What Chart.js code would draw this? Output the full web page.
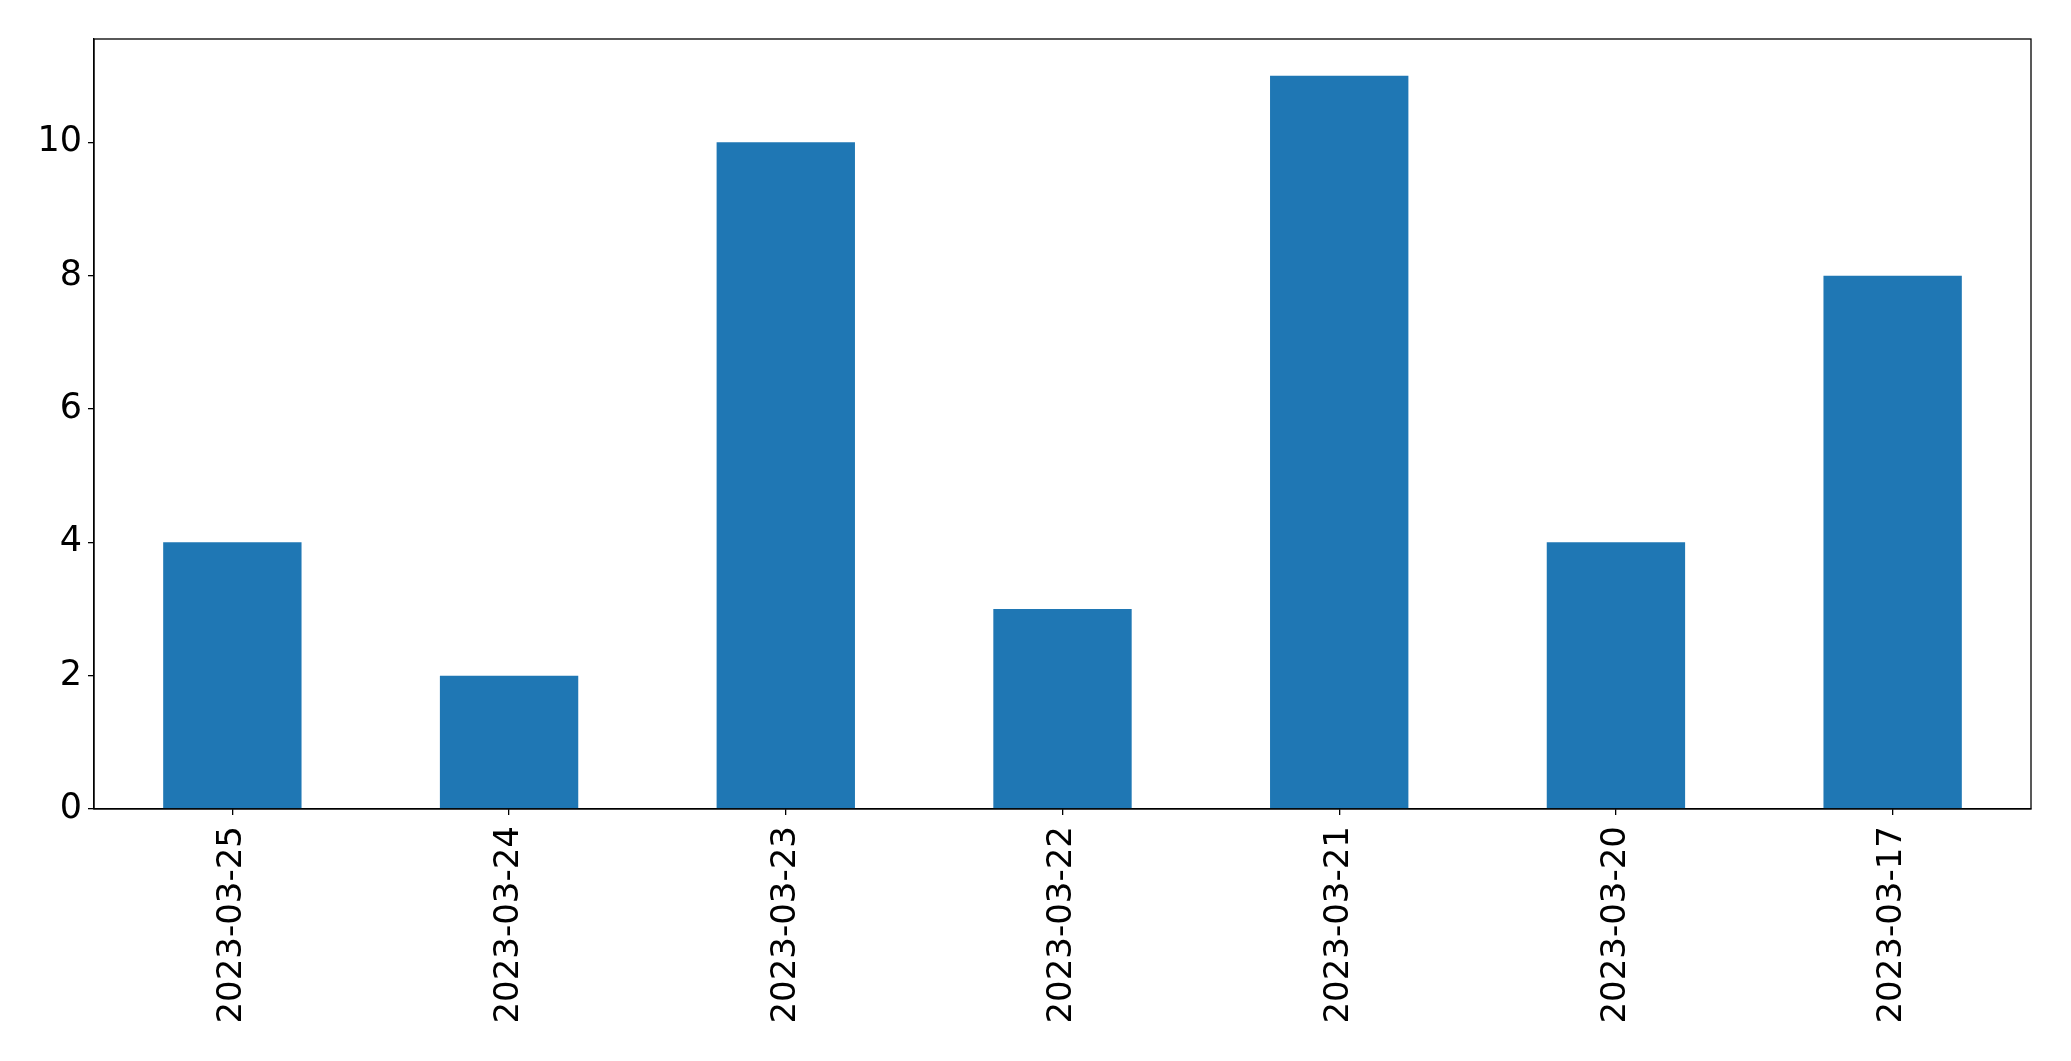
<!DOCTYPE html>
<html>
<head>
<meta charset="utf-8">
<script src="https://cdn.jsdelivr.net/npm/chart.js@4"></script>
<style>
html,body{margin:0;padding:0;background:#fff;}
#wrap{width:2071px;height:1061px;position:relative;}
</style>
</head>
<body>
<div id="wrap"><canvas id="c" width="2071" height="1061"></canvas></div>
<script>
const categories = ["2023-03-25","2023-03-24","2023-03-23","2023-03-22","2023-03-21","2023-03-20","2023-03-17"];
const values = [4, 2, 10, 3, 11, 4, 8];
const yTicks = [0, 2, 4, 6, 8, 10];

const frame = {
  id: 'frame',
  afterDraw(chart) {
    const a = chart.chartArea, ctx = chart.ctx;
    ctx.save();
    ctx.strokeStyle = '#000';
    ctx.lineWidth = 1.3;
    ctx.strokeRect(a.left, a.top, a.right - a.left, a.bottom - a.top);
    ctx.restore();
  }
};

new Chart(document.getElementById('c'), {
  type: 'bar',
  data: {
    labels: categories,
    datasets: [{ data: values, backgroundColor: '#1f77b4', barPercentage: 0.5, categoryPercentage: 1.0 }]
  },
  options: {
    responsive: false,
    animation: false,
    layout: { padding: { top: 39, right: 40, left: 0, bottom: 0 } },
    plugins: { legend: { display: false }, tooltip: { enabled: false } },
    scales: {
      x: {
        grid: { offset: false, drawOnChartArea: false, drawTicks: true, tickLength: 6, color: '#000', lineWidth: 1.3 },
        border: { display: true, color: '#000', width: 1.3 },
        ticks: { color: '#000', font: { family: 'DejaVu Sans', size: 34 }, minRotation: 90, maxRotation: 90, padding: 11, autoSkip: false },
        afterFit(s) { s.height = 252; }
      },
      y: {
        min: 0, max: 11.55,
        afterBuildTicks(s) { s.ticks = yTicks.map(v => ({ value: v })); },
        grid: { drawOnChartArea: false, drawTicks: true, tickLength: 6, color: '#000', lineWidth: 1.3 },
        border: { display: true, color: '#000', width: 1.3 },
        ticks: { color: '#000', font: { family: 'DejaVu Sans', size: 35 }, padding: 6 },
        afterFit(s) { s.width = 94; }
      }
    }
  },
  plugins: [frame]
});
</script>
</body>
</html>
